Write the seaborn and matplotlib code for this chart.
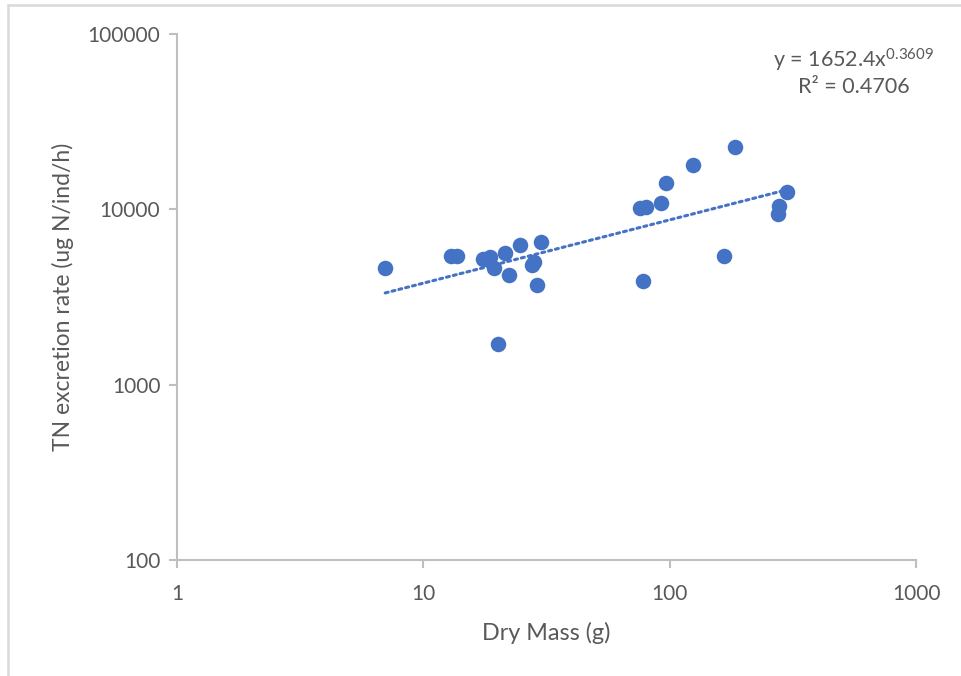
import numpy as np
import pandas as pd
import matplotlib
matplotlib.use("Agg")
import matplotlib.pyplot as plt
import seaborn as sns
from matplotlib.ticker import FixedLocator, FuncFormatter, NullLocator
from matplotlib.lines import Line2D

# ==========================================================
# DATA
# ==========================================================

dry_mass = [7.0, 13.0, 13.7, 17.4, 18.7, 19.3, 21.5, 22.3, 24.6, 27.7,
            28.2, 28.8, 30.0, 20.1, 75.5, 79.8, 91.9, 96.7, 124.4, 184.4,
            298.0, 278.0, 274.0, 166.0, 78.0]

tn_rate = [4650, 5420, 5420, 5240, 5380, 4650, 5620, 4230, 6300, 4800,
           4980, 3680, 6550, 1700, 10230, 10350, 10810, 14190, 17870, 22630,
           12610, 10440, 9370, 5420, 3880]

# power trendline shown on the chart
fit_a = 1652.4
fit_b = 0.3609
fit_r2 = 0.4706

x_ticks = [1, 10, 100, 1000]
y_ticks = [100, 1000, 10000, 100000]

df = pd.DataFrame({"dry_mass": dry_mass, "tn_rate": tn_rate})

# ==========================================================
# STYLE
# ==========================================================

sns.set_theme(style="white")
plt.rcParams["font.family"] = ["Lato", "DejaVu Sans"]
plt.rcParams["mathtext.fontset"] = "custom"
plt.rcParams["mathtext.rm"] = "Lato"
plt.rcParams["mathtext.it"] = "Lato"

blue = "#4472C4"
grey_axis = "#BFBFBF"
grey_text = "#595959"

# ==========================================================
# PLOT
# ==========================================================

fig = plt.figure(figsize=(9.61, 6.76), dpi=100)
ax = fig.add_axes([0.1842, 0.1716, 0.7690, 0.7781])

sns.scatterplot(
    data=df,
    x="dry_mass",
    y="tn_rate",
    color=blue,
    s=125,
    linewidth=0,
    ax=ax,
    zorder=3
)

# trendline over the data range
xs = np.logspace(np.log10(min(dry_mass)), np.log10(max(dry_mass)), 100)
ax.plot(xs, fit_a * xs ** fit_b, color=blue, linestyle=(0, (1, 1.3)),
        linewidth=2.2, dash_capstyle="round", zorder=2)

ax.set_xscale("log")
ax.set_yscale("log")
ax.set_xlim(1, 1000)
ax.set_ylim(100, 100000)

ax.xaxis.set_major_locator(FixedLocator(x_ticks))
ax.yaxis.set_major_locator(FixedLocator(y_ticks))
ax.xaxis.set_minor_locator(NullLocator())
ax.yaxis.set_minor_locator(NullLocator())
fmt = FuncFormatter(lambda v, _: f"{v:g}")
ax.xaxis.set_major_formatter(fmt)
ax.yaxis.set_major_formatter(fmt)

for side in ["top", "right"]:
    ax.spines[side].set_visible(False)
for side in ["left", "bottom"]:
    ax.spines[side].set_color(grey_axis)
    ax.spines[side].set_linewidth(1.5)

ax.tick_params(axis="both", which="major", direction="out", length=6,
               width=1.5, color=grey_axis, labelcolor=grey_text,
               labelsize=15, left=True, bottom=True)
ax.tick_params(axis="x", pad=11)
ax.tick_params(axis="y", pad=6)

ax.set_xlabel("Dry Mass (g)", fontsize=16.8, color=grey_text, labelpad=13)
ax.set_ylabel("TN excretion rate (ug N/ind/h)", fontsize=16.5,
              color=grey_text, labelpad=10)

# trendline equation
fig.text(0.8887, 0.911, r"y = 1652.4x$^{0.3609}$", ha="center", va="center",
         fontsize=15.5, color=grey_text)
fig.text(0.888, 0.872, f"R² = {fit_r2:.4f}", ha="center", va="center",
         fontsize=15.5, color=grey_text)

# chart-area border (cropped screenshot)
fig.add_artist(Line2D([0.0083, 0.0083], [0, 0.9926], transform=fig.transFigure,
                      color="#D9D9D9", linewidth=1.8))
fig.add_artist(Line2D([0.0083, 1], [0.9926, 0.9926], transform=fig.transFigure,
                      color="#D9D9D9", linewidth=1.8))

fig.savefig("out.png", dpi=100)
plt.close(fig)
